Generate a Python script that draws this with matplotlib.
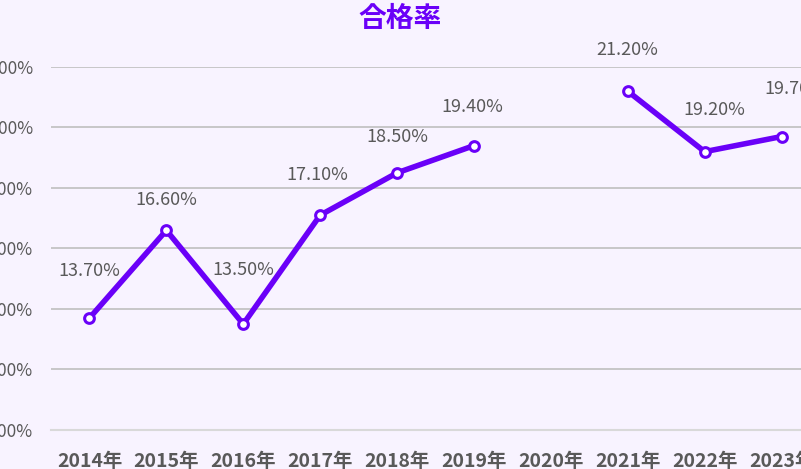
import numpy as np
import matplotlib.pyplot as plt

plt.rcParams['font.family'] = ['Noto Sans CJK JP', 'DejaVu Sans']

years = ['2014年', '2015年', '2016年', '2017年', '2018年', '2019年', '2020年', '2021年', '2022年', '2023年']
pass_rate = [13.7, 16.6, 13.5, 17.1, 18.5, 19.4, np.nan, 21.2, 19.2, 19.7]
# label nudges in points (Excel places some labels a bit off-centre)
label_dx = [0, 0, 0, -2, 0, -1, 0, 0, 7, 10]
label_dy = [34, 22, 39, 29, 26, 28, 0, 30, 30, 34]

purple = '#6A00F8'
grey_text = '#595959'
bg = '#F8F3FF'

fig = plt.figure(figsize=(8.01, 4.69), dpi=100, facecolor=bg)
ax = fig.add_axes([0.0637, 0.0832, 0.96, 0.774], facecolor=bg)

x = np.arange(len(years))
ax.plot(x, pass_rate, color=purple, linewidth=4, marker='o', markersize=7,
        markerfacecolor='white', markeredgecolor=purple, markeredgewidth=2.2,
        solid_capstyle='round', zorder=3)

for xi, v, dx, dy in zip(x, pass_rate, label_dx, label_dy):
    if np.isnan(v):
        continue
    ax.annotate(f'{v:.2f}%', (xi, v), xytext=(dx, dy), textcoords='offset points',
                ha='center', va='center', fontsize=13, color=grey_text)

ax.set_xlim(-0.5, len(years) - 0.5)
ax.set_ylim(10, 22)
ax.set_yticks(np.arange(10, 23, 2))
ax.set_yticklabels([f'{t:.2f}%' for t in np.arange(10, 23, 2)])
ax.set_xticks(x)
ax.set_xticklabels(years, fontweight='bold')

ax.grid(axis='y', color='#BFBFBF', linewidth=1.2)
ax.set_axisbelow(True)
for s in ['top', 'right', 'left']:
    ax.spines[s].set_visible(False)
ax.spines['bottom'].set_color('#D9D9D9')
ax.spines['bottom'].set_linewidth(1.5)

ax.tick_params(axis='y', length=0, pad=13, labelsize=12.5, labelcolor=grey_text)
ax.tick_params(axis='x', length=0, pad=16, labelsize=14, labelcolor=grey_text)

fig.text(0.5, 0.96, '合格率', ha='center', va='center', fontsize=20,
         fontweight='bold', color=purple)

fig.savefig('out.png', dpi=100, facecolor=bg)
